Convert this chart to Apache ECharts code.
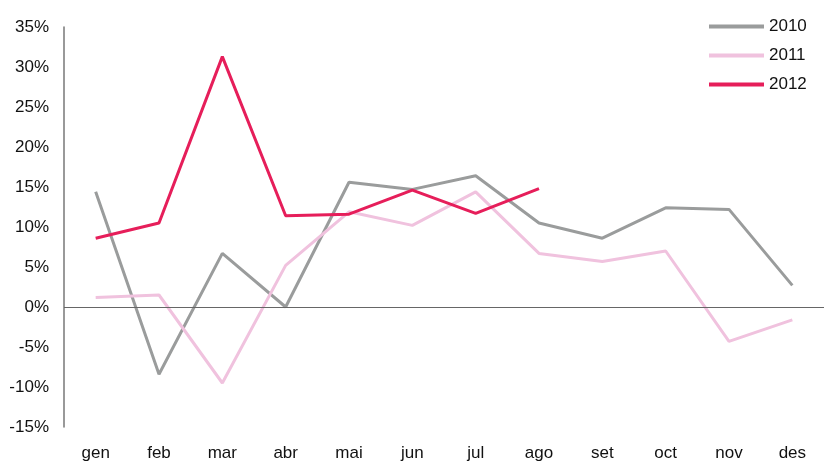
<!DOCTYPE html>
<html>
<head>
<meta charset="utf-8">
<script src="https://cdn.jsdelivr.net/npm/echarts@6/dist/echarts.min.js"></script>
<style>html,body{margin:0;padding:0;background:#fff;}#c{width:824px;height:462px;}</style>
</head>
<body>
<div id="c"></div>
<script>
const categories = ['gen','feb','mar','abr','mai','jun','jul','ago','set','oct','nov','des'];
const s2010 = [14.4, -8.4, 6.7, 0.0, 15.6, 14.7, 16.4, 10.5, 8.6, 12.4, 12.2, 2.7];
const s2011 = [1.2, 1.5, -9.5, 5.2, 11.9, 10.2, 14.4, 6.7, 5.7, 7.0, -4.3, -1.6];
const s2012 = [8.6, 10.5, 31.3, 11.4, 11.6, 14.6, 11.7, 14.8];
const seriesNames = ['2010','2011','2012'];
const colors = ['#9a9c9c','#f0c2de','#e61e5a'];

const chart = echarts.init(document.getElementById('c'));
const font = 'Liberation Sans, Arial, sans-serif';
const mk = (name, data, color, extra) => Object.assign({
  name, type: 'line', data, symbol: 'none', smooth: false,
  lineStyle: { color, width: 3 }, itemStyle: { color },
  animation: false
}, extra || {});
chart.setOption({
  animation: false,
  grid: { left: 64, right: -1, top: 27, bottom: 35, containLabel: false },
  legend: {
    orient: 'vertical', left: 709, top: 18, padding: 0, itemWidth: 55, itemHeight: 4,
    itemGap: 12, icon: 'rect',
    textStyle: { fontFamily: font, fontSize: 17, color: '#111', lineHeight: 16 },
    data: seriesNames
  },
  xAxis: {
    type: 'category', data: categories, boundaryGap: true,
    axisLine: { show: false }, axisTick: { show: false },
    axisLabel: { fontFamily: font, fontSize: 17, color: '#111', margin: 18 },
    splitLine: { show: false }
  },
  yAxis: {
    type: 'value', min: -15, max: 35, interval: 5,
    axisLine: { show: true, lineStyle: { color: '#777', width: 1.5 } },
    axisTick: { show: false }, splitLine: { show: false },
    axisLabel: { fontFamily: font, fontSize: 17, color: '#111', margin: 15, formatter: '{value}%' }
  },
  series: [
    mk('2010', s2010, colors[0], {
      markLine: {
        silent: true, symbol: 'none', label: { show: false },
        lineStyle: { color: '#666', width: 1.2, type: 'solid' },
        data: [{ yAxis: 0 }], animation: false
      }
    }),
    mk('2011', s2011, colors[1]),
    mk('2012', s2012, colors[2])
  ]
});
</script>
</body>
</html>
